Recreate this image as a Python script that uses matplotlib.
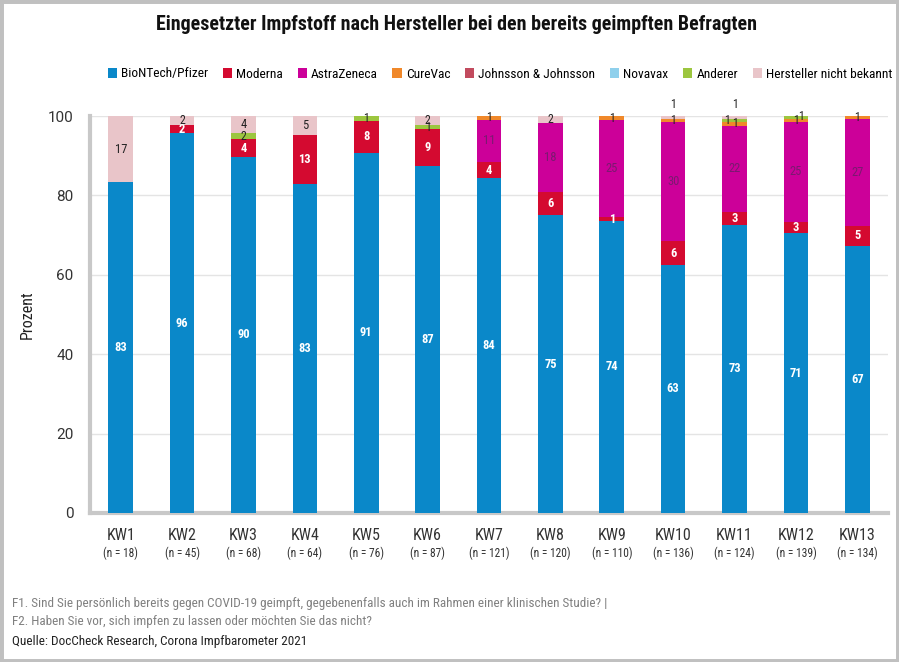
import matplotlib
matplotlib.use("Agg")
import matplotlib.pyplot as plt
from matplotlib import font_manager
from matplotlib.patches import Rectangle, Patch
import matplotlib.transforms as mtransforms
import numpy as np

available = {f.name for f in font_manager.fontManager.ttflist}
COND = next((f for f in ["Roboto Condensed", "Liberation Sans Narrow", "Roboto"] if f in available), "DejaVu Sans")
BASE = "Roboto" if "Roboto" in available else "DejaVu Sans"
plt.rcParams['font.family'] = [BASE, 'DejaVu Sans']

# ---------------- data ----------------
weeks = ["KW1", "KW2", "KW3", "KW4", "KW5", "KW6", "KW7", "KW8", "KW9", "KW10", "KW11", "KW12", "KW13"]
n_labels = ["(n = 18)", "(n = 45)", "(n = 68)", "(n = 64)", "(n = 76)", "(n = 87)", "(n = 121)",
            "(n = 120)", "(n = 110)", "(n = 136)", "(n = 124)", "(n = 139)", "(n = 134)"]
series_names = ["BioNTech/Pfizer", "Moderna", "AstraZeneca", "CureVac", "Johnsson & Johnsson",
                "Novavax", "Anderer", "Hersteller nicht bekannt"]
biontech = [83.3, 95.6, 89.7, 82.8, 90.8, 87.4, 84.3, 75.0, 73.6, 62.5, 72.6, 70.5, 67.2]
moderna = [0, 2.2, 4.4, 12.5, 7.9, 9.2, 4.1, 5.8, 0.9, 5.9, 3.2, 2.9, 5.2]
astrazeneca = [0, 0, 0, 0, 0, 0, 10.7, 17.5, 24.5, 30.1, 21.8, 25.2, 26.9]
curevac = [0, 0, 0, 0, 0, 0, 0.8, 0, 0.9, 0.7, 0.8, 0.7, 0.7]
johnson = [0] * 13
novavax = [0] * 13
anderer = [0, 0, 1.5, 0, 1.3, 1.1, 0, 0, 0, 0, 0.8, 0.7, 0]
unbekannt = [16.7, 2.2, 4.4, 4.7, 0, 2.3, 0, 1.7, 0, 0.7, 0.8, 0, 0]
yticks = [0, 20, 40, 60, 80, 100]

series = [biontech, moderna, astrazeneca, curevac, johnson, novavax, anderer, unbekannt]
colors = ["#0a88c9", "#d40a30", "#cc0099", "#f0882a", "#c24b5e", "#8fd0ec", "#9cc63f", "#e9c5c9"]
label_colors = ["white", "white", "#7a1a70", "#222222", "#222222", "#222222", "#222222", "#222222"]
label_weights = ["bold", "bold", "normal", "normal", "normal", "normal", "normal", "normal"]
# label nudges for crowded tiny segments (bar index, series index) -> (dx, dy)
nudges = {(9, 7): (0, 3.3), (10, 6): (-0.13, 0.0), (10, 7): (0, 3.3), (11, 6): (0.08, 0.3)}

W, H = 899, 662
fig = plt.figure(figsize=(W / 100, H / 100), dpi=100)
fig.patch.set_facecolor("white")
ax = fig.add_axes([90 / W, 1 - 513 / H, (888 - 90) / W, (513 - 116) / H])

x = np.arange(len(weeks))
bottom = np.zeros(len(weeks))
for si, (vals, col) in enumerate(zip(series, colors)):
    v = np.array(vals, dtype=float)
    ax.bar(x, v, bottom=bottom, width=0.4, color=col, edgecolor="none", zorder=3)
    for i in range(len(weeks)):
        if v[i] > 0:
            dx, dy = nudges.get((i, si), (0, 0))
            txt = str(int(np.floor(v[i] + 0.5)))
            small = v[i] < 3
            ax.text(x[i] + dx, bottom[i] + v[i] / 2 + dy, txt, ha="center", va="center",
                    fontsize=9.0 if not small or si < 2 else 8.5, color=label_colors[si],
                    fontweight=label_weights[si],
                    family=[COND, 'DejaVu Sans'], zorder=5)
    bottom += v

ax.set_xlim(-0.5, len(weeks) - 0.5)
ax.set_ylim(0, 100)
ax.set_yticks(yticks)
ax.set_yticklabels([str(t) for t in yticks], fontsize=11, color="#333333")
ax.tick_params(axis="y", length=0, pad=12)
ax.set_xticks([])
ax.grid(axis="y", color="#e4e4e4", linewidth=1, zorder=0)
for s in ["top", "right"]:
    ax.spines[s].set_visible(False)
for s in ["left", "bottom"]:
    ax.spines[s].set_color("#c8c8c8")
    ax.spines[s].set_linewidth(3)

trans = mtransforms.blended_transform_factory(ax.transData, fig.transFigure)
for i in range(len(weeks)):
    ax.text(x[i], 1 - 536 / H, weeks[i], transform=trans, ha="center", va="center",
            fontsize=11.5, color="#333333", family=[COND, 'DejaVu Sans'])
    ax.text(x[i], 1 - 553 / H, n_labels[i], transform=trans, ha="center", va="center",
            fontsize=8.3, color="#333333", family=[COND, 'DejaVu Sans'])

fig.text(27 / W, 1 - 315 / H, "Prozent", rotation=90, ha="center", va="center",
         fontsize=11.5, color="#222222", family=[COND, 'DejaVu Sans'])

fig.text(456 / W, 1 - 25 / H, "Eingesetzter Impfstoff nach Hersteller bei den bereits geimpften Befragten",
         ha="center", va="center", fontsize=14.4, fontweight="bold", color="#111111",
         family=[COND, 'DejaVu Sans'])

handles = [Patch(facecolor=c, edgecolor="none") for c in colors]
fig.legend(handles, series_names, loc="center", bbox_to_anchor=(500 / W, 1 - 74 / H), ncol=8,
           frameon=False, handlelength=0.7, handleheight=0.7, handletextpad=0.3,
           columnspacing=1.1, prop={'family': [COND, 'DejaVu Sans'], 'size': 9.6})

foot = dict(ha="left", va="center", fontsize=9.5, family=[COND, 'DejaVu Sans'])
fig.text(12 / W, 1 - 604 / H,
         "F1. Sind Sie persönlich bereits gegen COVID-19 geimpft, gegebenenfalls auch im Rahmen einer klinischen Studie? |",
         color="#808080", **foot)
fig.text(12 / W, 1 - 622 / H, "F2. Haben Sie vor, sich impfen zu lassen oder möchten Sie das nicht?",
         color="#808080", **foot)
fig.text(12 / W, 1 - 641 / H, "Quelle: DocCheck Research, Corona Impfbarometer 2021",
         color="#222222", **foot)

fig.patches.append(Rectangle((0, 0), 1, 1, transform=fig.transFigure, fill=False,
                             edgecolor="#c0c0c0", linewidth=5, zorder=10))

fig.savefig("out.png", dpi=100, facecolor="white")
